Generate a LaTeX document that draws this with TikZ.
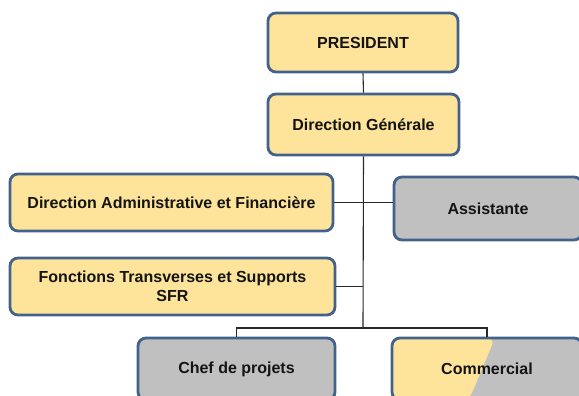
\documentclass[tikz,border=0pt]{standalone}
\usepackage{fontspec}
\setmainfont{Liberation Sans}
\usetikzlibrary{positioning}

\definecolor{boxyellow}{RGB}{253,228,154}
\definecolor{boxgrey}{RGB}{192,192,192}
\definecolor{boxedge}{RGB}{66,98,140}
\definecolor{linkgrey}{RGB}{40,40,40}

\begin{document}
\begin{tikzpicture}[x=1pt, y=-1pt,
    orgbox/.style={draw=boxedge, line width=2.8pt, rounded corners=8pt,
      align=center, text=black!92, inner sep=0pt,
      font=\bfseries\fontsize{16}{19}\selectfont},
    yellowbox/.style={orgbox, fill=boxyellow},
    greybox/.style={orgbox, fill=boxgrey},
    link/.style={draw=linkgrey, line width=1.1pt}]
    \useasboundingbox (0,0) rectangle (579,396);

    % Top of the chart
    % ---------------------
    \node[yellowbox, minimum width=190pt, minimum height=59pt] (pres) at (363,42.5) {PRESIDENT};
    \node[yellowbox, minimum width=191pt, minimum height=61pt] (dg) at (363.5,124.5) {Direction Générale};

    % Side boxes
    % ---------------------
    \node[yellowbox, minimum width=323pt, minimum height=57pt] (daf) at (171.5,202.5) {Direction Administrative et Financière};
    \node[yellowbox, minimum width=325pt, minimum height=57pt] (fts) at (172.5,286.5) {Fonctions Transverses et Supports\\SFR};
    \node[greybox, minimum width=188pt, minimum height=63pt] (asst) at (488,208.5) {Assistante};

    % Bottom boxes
    % ---------------------
    \node[greybox, minimum width=197pt, minimum height=62pt] (chef) at (236.5,369) {Chef de projets};
    \node[orgbox, minimum width=190pt, minimum height=62pt,
      path picture={
        \fill[boxgrey] (path picture bounding box.north west) rectangle (path picture bounding box.south east);
        \fill[boxyellow] (path picture bounding box.north west) -- ([xshift=103pt]path picture bounding box.north west)
          -- ([xshift=77pt]path picture bounding box.south west) -- (path picture bounding box.south west) -- cycle;
      }] (com) at (487,369) {Commercial};

    % Links
    % ---------------------
    \coordinate (split) at (363,328);
    \draw[link] (pres.south) -- (dg.north);
    \draw[link] (dg.south) -- (split);
    \draw[link] (daf.east) -- (daf.east -| asst.west);
    \draw[link] (fts.east) -- (fts.east -| split);
    \draw[link] (chef.north) |- (split) -| (com.north);
\end{tikzpicture}
\end{document}
